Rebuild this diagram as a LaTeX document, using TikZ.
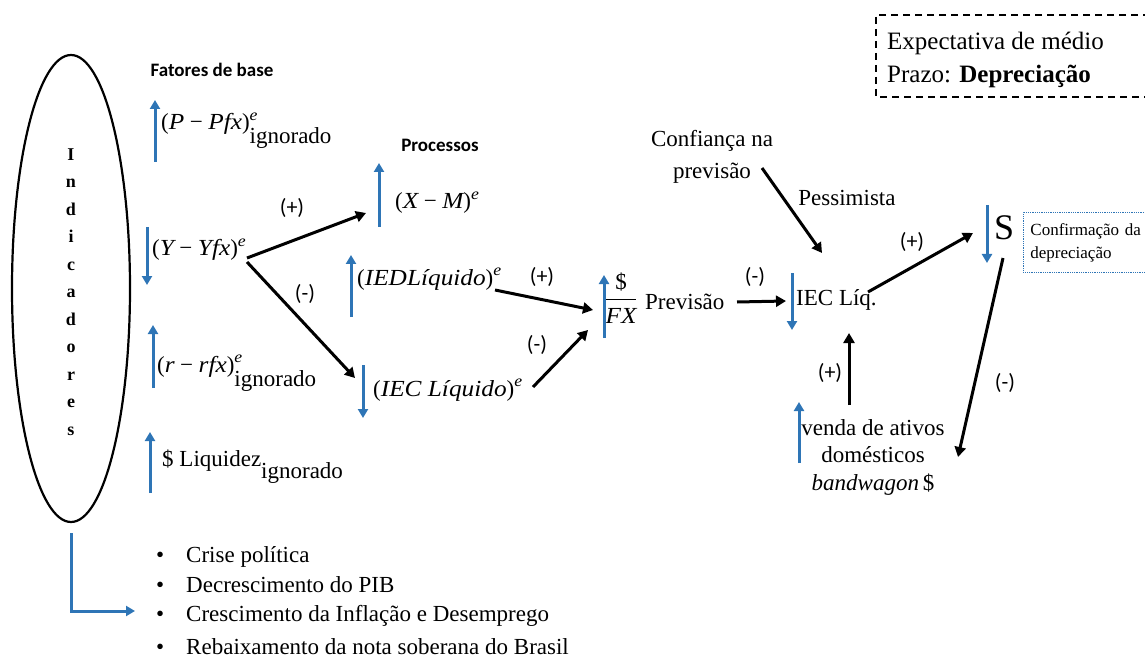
\documentclass[tikz,border=0pt]{standalone}
\usepackage{fontspec}
\setmainfont{Liberation Serif}
\newfontfamily\mf{Liberation Serif}[FakeStretch=1.1]
\newfontfamily\calib{Carlito}
\usepackage{amsmath}
\usetikzlibrary{arrows.meta,shapes.geometric}
\definecolor{myblue}{HTML}{2E75B6}
\newcommand\mv[1]{{\mf\itshape #1}}
\newcommand\mminus{\hspace{0.24em}−\hspace{0.24em}}
\newcommand\ex{\textsuperscript{\mv{e}}}
\newcommand\ign{\rlap{\textsuperscript{\mv{e}}}\raisebox{-14pt}{ignorado}}
\begin{document}
\begin{tikzpicture}[x=1pt,y=-1pt,
 txt/.style={inner sep=0pt, font=\fontsize{23}{28}\selectfont},
 lbl/.style={inner sep=0pt, font=\calib\fontsize{22}{26}\selectfont},
 hdr/.style={inner sep=0pt, font=\calib\bfseries\fontsize{19}{23}\selectfont},
 barrow/.style={draw=myblue, line width=3pt, -{Triangle[width=10pt,length=9pt]}},
 karrow/.style={draw=black, line width=3pt, -{Triangle[width=11pt,length=10pt]}},
]
\useasboundingbox (0,0) rectangle (1145,660);

% Indicadores ellipse
\node[draw, line width=2.2pt, ellipse, minimum width=118pt, minimum height=467pt, inner sep=0pt] (ind) at (71,288.5) {};
\node[inner sep=0pt, align=center, font=\bfseries\fontsize{18}{27.5}\selectfont] (indtxt) at (71,292)
 {I\\n\\d\\i\\c\\a\\d\\o\\r\\e\\s};

% bullet list
\node[txt, anchor=west] (b1) at (156,557) {\textbullet\hspace{22pt}Crise política};
\node[txt, anchor=west] (b2) at (156,585) {\textbullet\hspace{22pt}Decrescimento do PIB};
\node[txt, anchor=west] (b3) at (156,616) {\textbullet\hspace{22pt}Crescimento da Inflação e Desemprego};
\node[txt, anchor=west] (b4) at (156,647) {\textbullet\hspace{22pt}Rebaixamento da nota soberana do Brasil};
\coordinate (ltip) at (135,611);
\draw[barrow] ([yshift=-10pt]ind.south) |- (ltip);

% headers
\node[hdr] (fb) at (212,70) {Fatores de base};
\node[hdr] (proc) at (440,145) {Processos};

% base factors
\node[txt, anchor=base west] (pp) at (161,130) {(\mv{P}\mminus\mv{Pfx})\ign};
\draw[barrow] (155,162) -- (155,100);
\node[txt, anchor=base west] (yfx) at (152,256) {(\mv{Y}\mminus\mv{Yfx})\ex};
\draw[barrow] (147,227) -- (147,285);
\node[txt, anchor=base west] (rfx) at (157,372) {(\mv{r}\mminus\mv{rfx})\ign};
\draw[barrow] (153,388) -- (153,325);
\node[txt, anchor=base west] (liq) at (162,466) {\$ Liquidez\raisebox{-12pt}{ignorado}};
\draw[barrow] (150,493) -- (150,432);

% processes
\node[txt, anchor=base west] (xm) at (395,209) {(\mv{X}\mminus\mv{M})\ex};
\draw[barrow] (379,227) -- (379,163);
\node[txt, anchor=base west] (ied) at (357,285) {(\mv{IEDLíquido})\ex};
\draw[barrow] (351,317) -- (351,255);
\node[txt, anchor=base west] (iec) at (373,396) {(\mv{IEC Líquido})\ex};
\draw[barrow] (363,365) -- (363,418);

% $/FX
\node[txt] (fx) at (621,298) {$\dfrac{\text{\$}}{\text{\mv{FX}}}$};
\draw[barrow] (604,338) -- (604,275);
\node[txt, anchor=west] (prev) at (645,302) {Previsão};

\node[txt, align=center, font=\fontsize{23}{32}\selectfont] (conf) at (712,157) {Confiança na\\previsão};
\node[txt] (pess) at (847,198) {Pessimista};
\node[txt, anchor=west] (iecl) at (796,300) {IEC Líq.};
\draw[barrow] (792,273) -- (792,330);

\node[inner sep=0pt, anchor=west, font=\fontsize{36}{40}\selectfont] (S) at (994,228) {S};
\draw[barrow] (987,205) -- (987,263);
\node[draw=myblue, densely dotted, line width=0.8pt, anchor=north west, minimum height=60pt,
 inner xsep=7pt, inner ysep=0pt, align=left, text width=118pt, font=\fontsize{17}{23}\selectfont] (confdep) at (1023,212)
 {Confirmação da\\depreciação};

\node[txt, align=center, font=\fontsize{23}{27.5}\selectfont] (venda) at (873,457) {venda de ativos\\domésticos\\\textit{bandwagon}\,\$};
\draw[barrow] (799,463) -- (799,402);

% top-right box
\draw[dashed, line width=1.3pt, dash pattern=on 7pt off 5pt] (1150,15) -- (876,15) -- (876,97) -- (1150,97);
\node[inner sep=0pt, anchor=base west, align=left, font=\fontsize{25}{33}\selectfont] (expt) at (887,83)
 {Expectativa de médio\\Prazo: \textbf{Depreciação}};

% connector endpoints
\coordinate (yfx-a) at (247,258);
\coordinate (xm-in) at (366,213);
\coordinate (yfx-b) at (247,262);
\coordinate (iec-in) at (355,378);
\coordinate (ied-out) at (495,290);
\coordinate (fx-in1) at (593,310);
\coordinate (iec-out) at (533,387);
\coordinate (fx-in2) at (588,330);
\coordinate (prev-out) at (737,302);
\coordinate (iecl-in) at (786,301);
\coordinate (conf-out) at (762,168);
\coordinate (iecl-in2) at (822,253);
\coordinate (iecl-out) at (868,292);
\coordinate (S-in) at (973,233);
\coordinate (S-out) at (1003,258);
\coordinate (venda-in) at (958,457);
\coordinate (venda-out) at (849,405);
\coordinate (iecl-in3) at (849,333);

\draw[karrow] (yfx-a) -- (xm-in);
\draw[karrow] (yfx-b) -- (iec-in);
\draw[karrow] (ied-out) -- (fx-in1);
\draw[karrow] (iec-out) -- (fx-in2);
\draw[karrow] (prev-out) -- (iecl-in);
\draw[karrow] (conf-out) -- (iecl-in2);
\draw[karrow] (iecl-out) -- (S-in);
\draw[karrow] (S-out) -- (venda-in);
\draw[karrow] (venda-out) -- (iecl-in3);

% signs
\node[lbl] (l1) at (292,208) {(+)};
\node[lbl] (l2) at (305,294) {(-)};
\node[lbl] (l3) at (542,277) {(+)};
\node[lbl] (l4) at (537,345) {(-)};
\node[lbl] (l5) at (755,277) {(-)};
\node[lbl] (l6) at (912,242) {(+)};
\node[lbl] (l7) at (1005,383) {(-)};
\node[lbl] (l8) at (830,373) {(+)};
\end{tikzpicture}
\end{document}
